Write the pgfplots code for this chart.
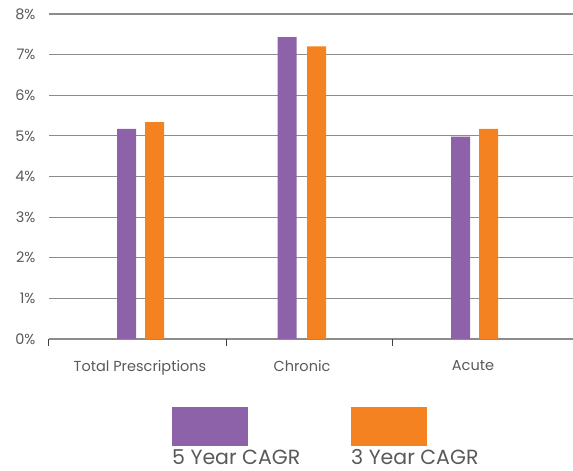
\documentclass[border=0pt]{standalone}
\usepackage{pgfplots}
\pgfplotsset{compat=1.18}
\usepackage{fontspec}
\setmainfont{Poppins}
\definecolor{cpurple}{HTML}{8E62A8}
\definecolor{corange}{HTML}{F58220}
\definecolor{ctext}{HTML}{595959}
\definecolor{cgrid}{HTML}{8C8C8C}
\begin{document}
\begin{tikzpicture}[x=1bp,y=1bp]
\path[use as bounding box] (-49,-132) rectangle (524,339);
\begin{axis}[
  at={(0,0)}, anchor=south west,
  scale only axis, width=524bp, height=325bp,
  xmin=0, xmax=524, ymin=0, ymax=8,
  axis line style={draw=none},
  ytick={0,1,...,8},
  yticklabel={\pgfmathprintnumber{\tick}\%},
  /pgf/number format/assume math mode=true,
  ymajorgrids, grid style={cgrid, line width=1.1bp},
  major y tick style={draw=none},
  xtick={0,177,343},
  xtick pos=bottom,
  xticklabels={},
  major x tick style={draw=black!75, line width=1bp},
  major tick length=7bp,
  extra x ticks={91,253,424},
  extra x tick labels={Total Prescriptions,Chronic,Acute},
  extra x tick style={major tick length=0pt, grid=none, xticklabel style={yshift=-18bp}},
  tick align=outside,
  ticklabel style={font=\fontsize{14.5bp}{17bp}\selectfont, text=ctext},
  yticklabel style={xshift=-3bp},
  bar width=19,
  clip=false,
]
\addplot[ybar, bar shift=0, fill=cpurple, draw=none] coordinates {(77.5,5.17) (238,7.43) (411.5,4.98)};
\addplot[ybar, bar shift=0, fill=corange, draw=none] coordinates {(105.5,5.34) (267.5,7.20) (439.5,5.17)};
\end{axis}
\fill[cpurple] (123,-68) rectangle (199,-107);
\fill[corange] (302,-68) rectangle (378,-107);
\node[anchor=base west, inner sep=0pt, text=ctext, font=\fontsize{20.5bp}{24bp}\selectfont] at (123,-126) {5 Year CAGR};
\node[anchor=base west, inner sep=0pt, text=ctext, font=\fontsize{20.5bp}{24bp}\selectfont] at (302,-126) {3 Year CAGR};
\end{tikzpicture}
\end{document}
